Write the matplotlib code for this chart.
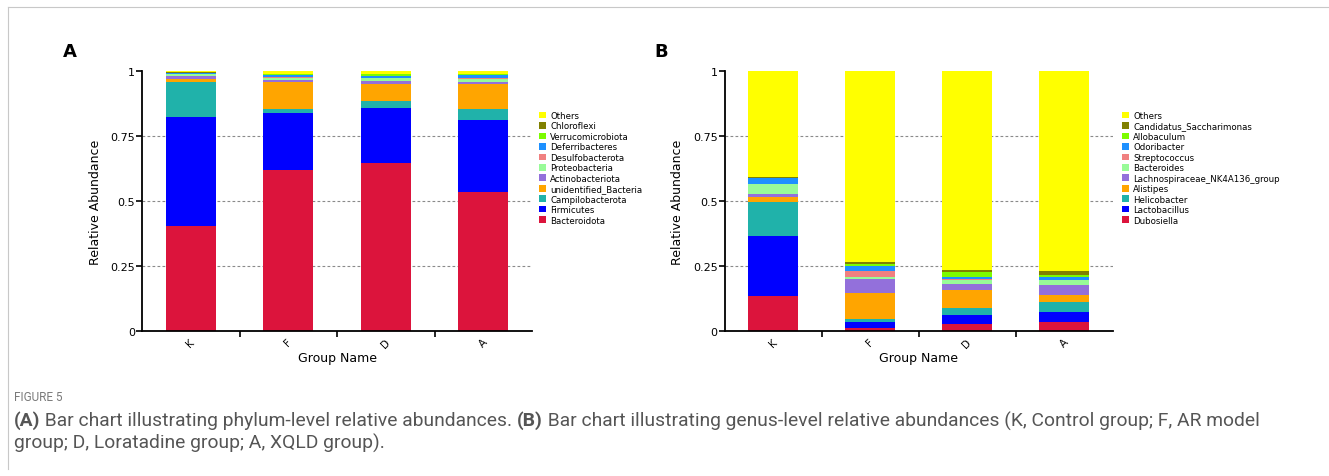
import matplotlib
matplotlib.use("Agg")
import matplotlib.pyplot as plt
from matplotlib.patches import Patch
from matplotlib.lines import Line2D

groups = ["K", "F", "D", "A"]

# panel A - phylum level (bottom -> top)
phylum_names = ["Bacteroidota", "Firmicutes", "Campilobacterota", "unidentified_Bacteria",
                "Actinobacteriota", "Proteobacteria", "Desulfobacterota", "Deferribacteres",
                "Verrucomicrobiota", "Chloroflexi", "Others"]
bacteroidota = [0.402, 0.620, 0.648, 0.533]
firmicutes = [0.421, 0.219, 0.210, 0.279]
campilobacterota = [0.134, 0.015, 0.025, 0.042]
unidentified_bacteria = [0.012, 0.105, 0.067, 0.095]
actinobacteriota = [0.010, 0.008, 0.013, 0.010]
proteobacteria = [0.008, 0.007, 0.009, 0.012]
desulfobacterota = [0.002, 0.003, 0.003, 0.004]
deferribacteres = [0.002, 0.006, 0.007, 0.008]
verrucomicrobiota = [0.003, 0.004, 0.005, 0.004]
chloroflexi = [0.001, 0.002, 0.002, 0.002]
others_phylum = [0.005, 0.011, 0.011, 0.011]

# panel B - genus level (bottom -> top)
genus_names = ["Dubosiella", "Lactobacillus", "Helicobacter", "Alistipes",
               "Lachnospiraceae_NK4A136_group", "Bacteroides", "Streptococcus",
               "Odoribacter", "Allobaculum", "Candidatus_Saccharimonas", "Others"]
dubosiella = [0.134, 0.013, 0.026, 0.035]
lactobacillus = [0.230, 0.020, 0.037, 0.037]
helicobacter = [0.134, 0.015, 0.024, 0.038]
alistipes = [0.019, 0.099, 0.072, 0.028]
lachnospiraceae = [0.010, 0.054, 0.023, 0.040]
bacteroides = [0.037, 0.008, 0.014, 0.018]
streptococcus = [0.002, 0.023, 0.003, 0.002]
odoribacter = [0.023, 0.018, 0.010, 0.010]
allobaculum = [0.001, 0.008, 0.018, 0.008]
candidatus = [0.004, 0.009, 0.008, 0.014]
others_genus = [0.406, 0.733, 0.765, 0.770]

colors = ["#DC143C", "#0000FF", "#20B2AA", "#FFA500", "#9370DB", "#98FB98",
          "#F08080", "#1E90FF", "#7CFC00", "#808000", "#FFFF00"]

phylum_data = [bacteroidota, firmicutes, campilobacterota, unidentified_bacteria,
               actinobacteriota, proteobacteria, desulfobacterota, deferribacteres,
               verrucomicrobiota, chloroflexi, others_phylum]
genus_data = [dubosiella, lactobacillus, helicobacter, alistipes, lachnospiraceae,
              bacteroides, streptococcus, odoribacter, allobaculum, candidatus,
              others_genus]

W, H = 1329, 477
fig = plt.figure(figsize=(W / 100, H / 100), dpi=100)
plt.rcParams["font.family"] = ["DejaVu Sans"]


def stacked(ax, series, names, legend_xy):
    x = list(range(len(groups)))
    bottom = [0.0] * len(groups)
    for vals, c in zip(series, colors):
        ax.bar(x, vals, width=0.51, bottom=bottom, color=c, edgecolor="none", zorder=2)
        bottom = [b + v for b, v in zip(bottom, vals)]
    for yv in (0.25, 0.5, 0.75):
        ax.axhline(yv, color="#8a8a8a", lw=0.8, ls=(0, (2.5, 2)), zorder=1)
    ax.set_xlim(-0.5, 3.5)
    ax.set_ylim(0, 1)
    ax.set_yticks([0, 0.25, 0.5, 0.75, 1])
    ax.set_yticklabels(["0", "0.25", "0.5", "0.75", "1"], fontsize=8)
    ax.set_xticks(x)
    ax.set_xticklabels(groups, rotation=45, fontsize=7.5, ha="center")
    ax.set_xticks([0.5, 1.5, 2.5], minor=True)
    ax.tick_params(axis="x", which="major", length=0, pad=4)
    ax.tick_params(axis="x", which="minor", length=4, width=1.2, direction="out")
    ax.tick_params(axis="y", length=4, width=1.2, direction="out", pad=1)
    for s in ("top", "right"):
        ax.spines[s].set_visible(False)
    for s in ("left", "bottom"):
        ax.spines[s].set_linewidth(1.3)
    ax.set_ylabel("Relative Abundance", fontsize=9, labelpad=6)
    ax.set_xlabel("Group Name", fontsize=9, labelpad=1)

    handles = [Patch(facecolor=c, edgecolor="none") for c in colors][::-1]
    fig.legend(handles, names[::-1], loc="upper left",
               bbox_to_anchor=(legend_xy[0] / W, 1 - legend_xy[1] / H),
               bbox_transform=fig.transFigure, frameon=False, fontsize=6.2,
               handlelength=0.8, handleheight=0.8, handletextpad=0.5,
               labelspacing=0.17, borderpad=0, borderaxespad=0)


axA = fig.add_axes([142 / W, 1 - 332 / H, 390 / W, 260 / H])
stacked(axA, phylum_data, phylum_names, (539, 112))
axB = fig.add_axes([724.5 / W, 1 - 332 / H, 388 / W, 260 / H])
stacked(axB, genus_data, genus_names, (1122, 112))

fig.text(70 / W, 1 - 52 / H, "A", fontsize=13, fontweight="bold", ha="center", va="center")
fig.text(661 / W, 1 - 52 / H, "B", fontsize=13, fontweight="bold", ha="center", va="center")

# frame lines of the page
fig.add_artist(Line2D([8 / W, 1], [1 - 8 / H, 1 - 8 / H], transform=fig.transFigure,
                      color="#c8c8c8", lw=0.8))
fig.add_artist(Line2D([8 / W, 8 / W], [1 - 8 / H, 1 - 470 / H], transform=fig.transFigure,
                      color="#c8c8c8", lw=0.8))

# caption
cap_font = "Roboto"
fig.text(14 / W, 1 - 398 / H, "FIGURE 5", fontsize=8.5, color="#7a7a7a",
         family=cap_font, va="center")

renderer = fig.canvas.get_renderer()


def runs(x_px, y_px, parts):
    x = x_px
    for s, bold in parts:
        t = fig.text(x / W, 1 - y_px / H, s, fontsize=13.9, color="#555555",
                     family=cap_font, fontweight="bold" if bold else "normal", va="center")
        x += t.get_window_extent(renderer).width


runs(14, 421, [("(A)", True), (" Bar chart illustrating phylum-level relative abundances. ", False),
               ("(B)", True), (" Bar chart illustrating genus-level relative abundances (K, Control group; F, AR model", False)])
runs(14, 443, [("group; D, Loratadine group; A, XQLD group).", False)])

fig.savefig("out.png", dpi=100)
